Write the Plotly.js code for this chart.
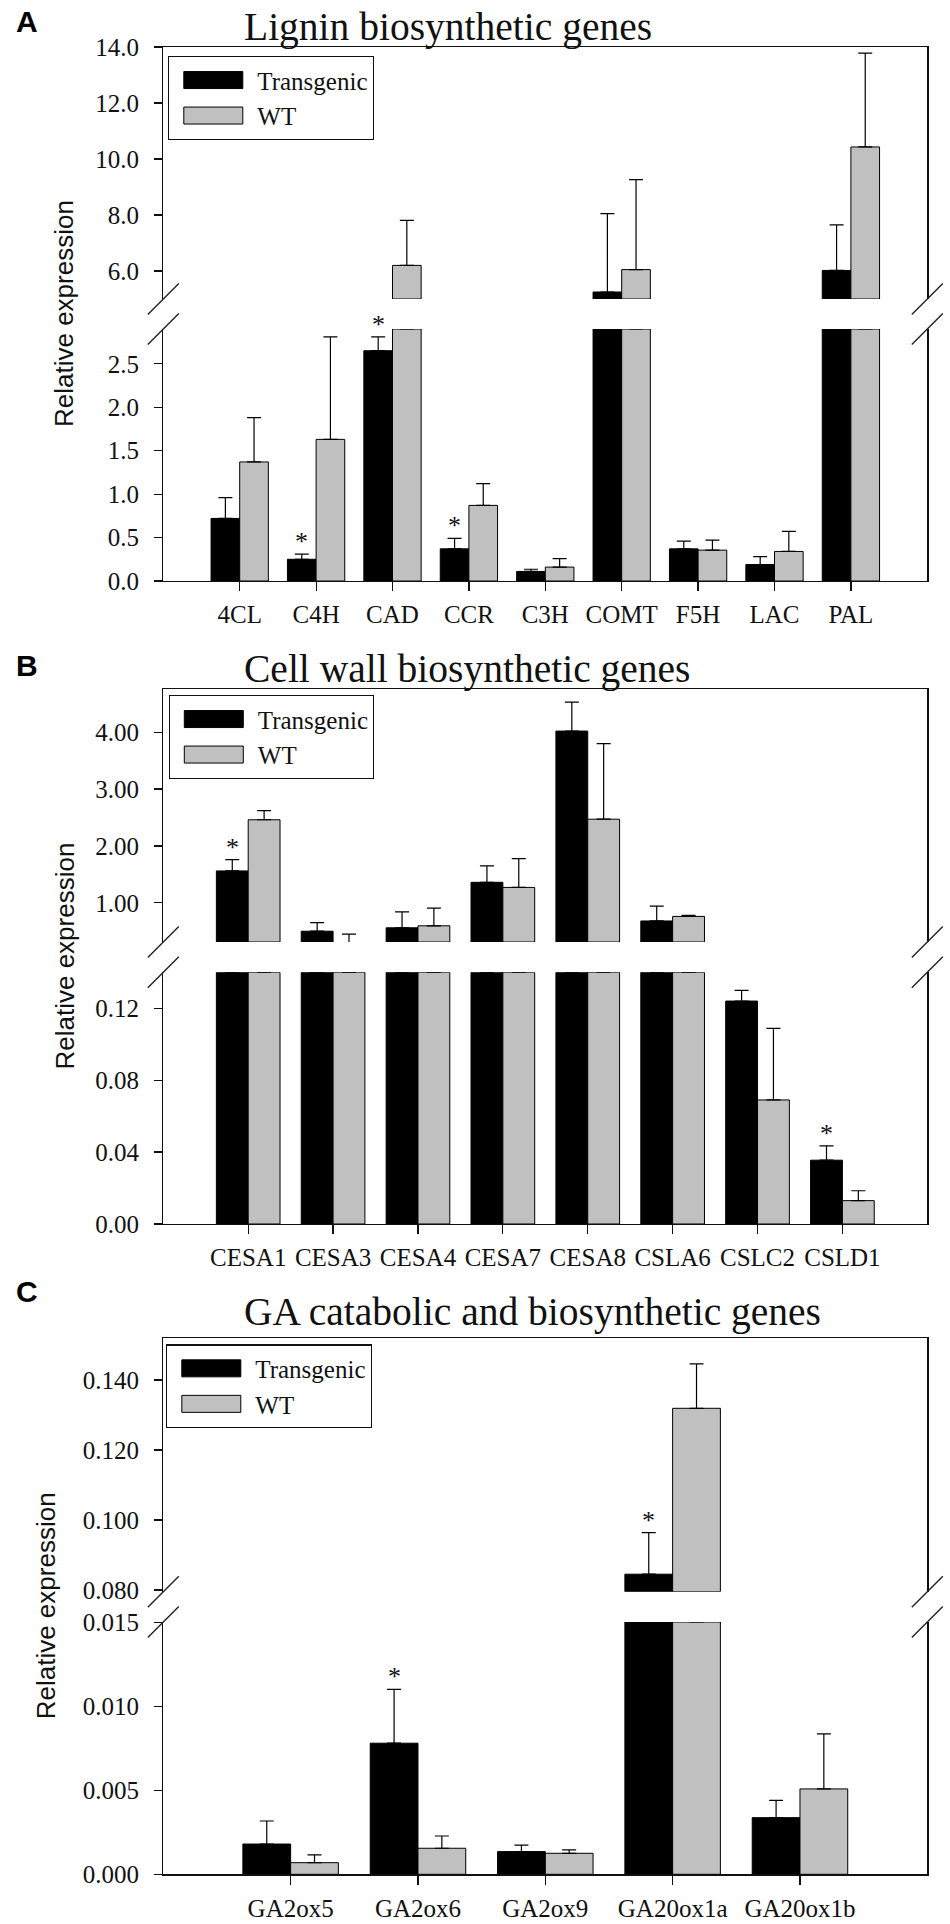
<!DOCTYPE html>
<html>
<head>
<meta charset="utf-8">
<script src="https://cdn.plot.ly/plotly-3.0.1.min.js"></script>
<style>html,body{margin:0;padding:0;background:#fff;}</style>
</head>
<body>
<div id="chart" style="width:950px;height:1924px;"></div>
<script>
// ---------------- DATA ----------------
// Panel A: Lignin biosynthetic genes
const genesA = ['4CL','C4H','CAD','CCR','C3H','COMT','F5H','LAC','PAL'];
const transA = [0.72, 0.25, 2.65, 0.37, 0.11, 5.25, 0.37, 0.19, 6.02];
const transErrA = [0.24, 0.06, 0.16, 0.12, 0.025, 2.80, 0.09, 0.09, 1.63];
const wtA = [1.37, 1.63, 6.20, 0.87, 0.16, 6.05, 0.355, 0.34, 10.43];
const wtErrA = [0.51, 1.18, 1.61, 0.25, 0.097, 3.21, 0.115, 0.23, 3.35];
const sigA = ['C4H','CAD','CCR'];

// Panel B: Cell wall biosynthetic genes
const genesB = ['CESA1','CESA3','CESA4','CESA7','CESA8','CSLA6','CSLC2','CSLD1'];
const transB = [1.56, 0.50, 0.56, 1.36, 4.02, 0.68, 0.124, 0.0355];
const transErrB = [0.20, 0.15, 0.28, 0.29, 0.51, 0.26, 0.006, 0.0079];
const wtB = [2.46, 0.25, 0.595, 1.27, 2.47, 0.76, 0.069, 0.013];
const wtErrB = [0.16, 0.20, 0.31, 0.505, 1.33, 0.02, 0.0398, 0.0055];
const sigB = ['CESA1','CSLD1'];

// Panel C: GA catabolic and biosynthetic genes
const genesC = ['GA2ox5','GA2ox6','GA2ox9','GA20ox1a','GA20ox1b'];
const transC = [0.0018, 0.0078, 0.00135, 0.0845, 0.00337];
const transErrC = [0.00137, 0.0032, 0.00039, 0.0119, 0.00103];
const wtC = [0.00069, 0.00155, 0.00125, 0.1319, 0.00508];
const wtErrC = [0.00046, 0.00073, 0.0002, 0.0127, 0.00327];
const sigC = ['GA2ox6','GA20ox1a'];

const seriesNames = ['Transgenic', 'WT'];
const titles = ['Lignin biosynthetic genes', 'Cell wall biosynthetic genes', 'GA catabolic and biosynthetic genes'];
const panelLetters = ['A', 'B', 'C'];
const yTitle = 'Relative expression';

// ---------------- LAYOUT HELPERS ----------------
const W = 950, H = 1924;
const px = v => v / W;
const py = v => 1 - v / H;
const SERIF = 'Liberation Serif, Times New Roman, serif';
const SANS = 'Liberation Sans, Arial, sans-serif';
const INK = '#111';
const xDom = [px(163.3), px(927.3)];

const panels = [
  {cats: genesA, t: transA, te: transErrA, w: wtA, we: wtErrA, sig: sigA,
   lowRange: [0, 2.9], upRange: [5, 14.0001], lowDtick: 0.5, upDtick: 2, fmt: '.1f',
   lowDom: [py(581), py(329)], upDom: [py(299), py(47)],
   legendPos: [168, 56], letterY: 21, titleY: 26.7, yTitleX: 64},
  {cats: genesB, t: transB, te: transErrB, w: wtB, we: wtErrB, sig: sigB,
   lowRange: [0, 0.14], upRange: [0.31, 4.76], lowDtick: 0.04, upDtick: 1, fmt: '.2f',
   lowDom: [py(1224), py(972.3)], upDom: [py(942), py(689)],
   legendPos: [168.5, 695], letterY: 665, titleY: 669, yTitleX: 64},
  {cats: genesC, t: transC, te: transErrC, w: wtC, we: wtErrC, sig: sigC,
   lowRange: [0, 0.01501], upRange: [0.0795, 0.1519], lowDtick: 0.005, upDtick: 0.02, fmt: '.3f',
   lowDom: [py(1874.3), py(1622)], upDom: [py(1591.7), py(1338.3)],
   legendPos: [166, 1344.3], letterY: 1291, titleY: 1311.7, yTitleX: 46}
];

const traces = [];
const layout = {
  width: W, height: H,
  margin: {l: 0, r: 0, t: 0, b: 0},
  paper_bgcolor: '#fff', plot_bgcolor: 'rgba(0,0,0,0)',
  font: {family: SERIF, color: INK},
  barmode: 'group', bargap: 0.25, bargroupgap: 0,
  showlegend: true,
  shapes: [], annotations: []
};

panels.forEach((p, k) => {
  const n = 2 * k + 1;           // lower axis number
  const m = 2 * k + 2;           // upper axis number
  const xl = n === 1 ? 'x' : 'x' + n, yl = n === 1 ? 'y' : 'y' + n;
  const xu = 'x' + m, yu = 'y' + m;
  const lowTop = p.lowRange[1], upBot = p.upRange[0];
  const legendId = k === 0 ? 'legend' : 'legend' + (k + 1);
  const colors = ['#000000', '#c0c0c0'];
  const vals = [p.t, p.w], errs = [p.te, p.we];

  [0, 1].forEach(s => {
    const v = vals[s], e = errs[s];
    // lower (clipped) segment
    traces.push({
      type: 'bar', name: seriesNames[s], x: p.cats,
      y: v.map(a => Math.min(a, lowTop)),
      xaxis: xl, yaxis: yl, legend: legendId, showlegend: true,
      marker: {color: colors[s], line: {color: '#000', width: 1}},
      error_y: {type: 'data', symmetric: false,
        array: v.map((a, i) => a <= lowTop ? e[i] : NaN),
        arrayminus: v.map(() => 0),
        color: '#000', thickness: 1.2, width: 7},
      hoverinfo: 'skip'
    });
    // upper segment (only broken bars)
    traces.push({
      type: 'bar', name: seriesNames[s], x: p.cats,
      base: v.map(a => a > lowTop ? upBot : null),
      y: v.map(a => a > lowTop ? a - upBot : null),
      xaxis: xu, yaxis: yu, legend: legendId, showlegend: false,
      marker: {color: colors[s], line: {color: '#000', width: v.map(a => a > upBot ? 1 : 0)}},
      error_y: {type: 'data', symmetric: false,
        array: v.map((a, i) => a > lowTop ? e[i] : NaN),
        arrayminus: v.map(() => 0),
        color: '#000', thickness: 1.2, width: 7},
      hoverinfo: 'skip'
    });
  });

  const xr = [-1, p.cats.length];
  const axLine = {showline: true, linecolor: '#111', linewidth: 1.3, showgrid: false, zeroline: false, fixedrange: true};
  layout[n === 1 ? 'xaxis' : 'xaxis' + n] = Object.assign({}, axLine, {
    domain: xDom, range: xr, type: 'category', categoryorder: 'array', categoryarray: p.cats,
    anchor: yl, ticks: 'outside', ticklen: 9, tickwidth: 1.2, tickcolor: '#111',
    tickfont: {family: SERIF, size: 25, color: INK}, ticklabelstandoff: 2
  });
  layout['xaxis' + m] = Object.assign({}, axLine, {
    domain: xDom, range: xr, type: 'category', categoryorder: 'array', categoryarray: p.cats,
    anchor: yu, side: 'top', ticks: '', showticklabels: false
  });
  const yCommon = {ticks: 'outside', ticklen: 8, tickwidth: 1.2, tickcolor: '#111', mirror: true,
    tickformat: p.fmt, tick0: 0, tickfont: {family: SERIF, size: 25, color: INK}, ticklabelstandoff: 10};
  layout[n === 1 ? 'yaxis' : 'yaxis' + n] = Object.assign({}, axLine, yCommon, {
    domain: p.lowDom, range: p.lowRange, dtick: p.lowDtick, anchor: xl
  });
  layout['yaxis' + m] = Object.assign({}, axLine, yCommon, {
    domain: p.upDom, range: p.upRange, dtick: p.upDtick, anchor: xu
  });

  // legend
  layout[legendId] = {
    x: px(p.legendPos[0]), y: py(p.legendPos[1]), xanchor: 'left', yanchor: 'top',
    bgcolor: '#fff', bordercolor: '#111', borderwidth: 1.3,
    font: {family: SERIF, size: 25, color: INK},
    itemwidth: 78, traceorder: 'normal', tracegroupgap: 0
  };

  // axis break marks
  const ylDom = yl + ' domain', yuDom = yu + ' domain', xlDom = xl + ' domain';
  [0, 1].forEach(side => {
    [[yuDom, 0], [ylDom, 1]].forEach(([yref, ya]) => {
      layout.shapes.push({type: 'line', xref: xlDom, yref: yref,
        xsizemode: 'pixel', ysizemode: 'pixel', xanchor: side, yanchor: ya,
        x0: -15.5, x1: 15.5, y0: -15.5, y1: 15.5,
        line: {color: '#222', width: 1.4}});
    });
  });

  // texts
  layout.annotations.push({xref: 'paper', yref: 'paper', x: px(27), y: py(p.letterY),
    text: '<b>' + panelLetters[k] + '</b>', showarrow: false, xanchor: 'center', yanchor: 'middle',
    font: {family: SANS, size: 30, color: '#000'}});
  layout.annotations.push({xref: 'paper', yref: 'paper', x: px(242), y: py(p.titleY),
    text: titles[k], showarrow: false, xanchor: 'left', yanchor: 'middle',
    font: {family: SERIF, size: 39.5, color: INK}});
  layout.annotations.push({xref: 'paper', yref: 'paper', x: px(p.yTitleX),
    y: (p.lowDom[0] + p.upDom[1]) / 2, textangle: -90,
    text: yTitle, showarrow: false, xanchor: 'center', yanchor: 'middle',
    font: {family: SANS, size: 26, color: INK}});

  // significance asterisks over Transgenic bars
  p.sig.forEach(g => {
    const i = p.cats.indexOf(g);
    const v = p.t[i], top = p.t[i] + p.te[i];
    layout.annotations.push({xref: xl, yref: v > lowTop ? yu : yl,
      x: i - 0.1875, y: top, text: '*', showarrow: false,
      xanchor: 'center', yanchor: 'bottom', yshift: -4,
      font: {family: SERIF, size: 26, color: INK}});
  });
});

Plotly.newPlot('chart', traces, layout, {staticPlot: true, displayModeBar: false}).then(gd => {
  // enlarge legend swatches to the wide rectangles of the original
  gd.querySelectorAll('.legendpoints path').forEach(pth => {
    pth.setAttribute('d', 'M-29.5,-8.5h59v17h-59Z');
  });
});
</script>
</body>
</html>
